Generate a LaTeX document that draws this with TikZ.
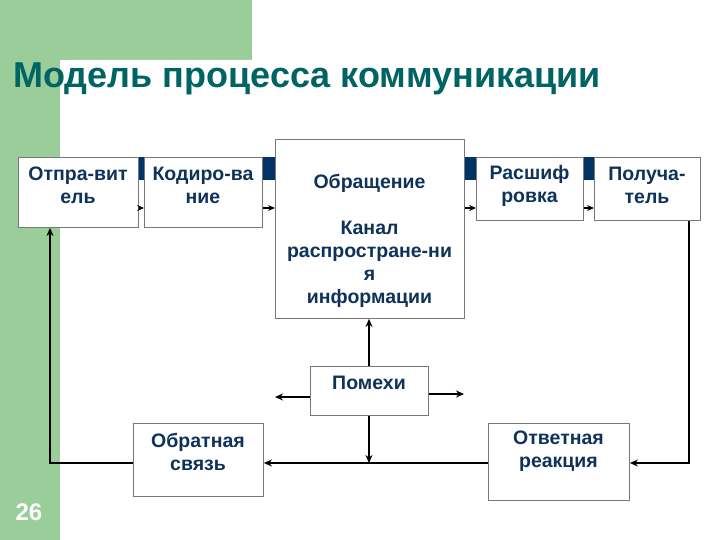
\documentclass[tikz,border=0pt]{standalone}
\usepackage{fontspec}
\setmainfont{Liberation Sans}
\usetikzlibrary{arrows.meta}
\definecolor{bggreen}{RGB}{155,205,155}
\definecolor{titlecol}{RGB}{0,100,100}
\definecolor{txtcol}{RGB}{15,50,90}
\definecolor{barcol}{RGB}{0,51,102}
\definecolor{boxline}{RGB}{120,120,120}
\tikzset{
  box/.style={draw=boxline, line width=0.9pt, fill=white, anchor=north west, inner sep=0pt},
  txt/.style={font=\fontsize{19.5}{23}\selectfont\bfseries, text=txtcol, align=center, inner sep=0pt},
  conn/.style={line width=2.2pt, draw=black},
  arr/.style={conn, -{Stealth[length=8pt,width=7pt]}},
  sarr/.style={line width=1.8pt, -{Stealth[length=7pt,width=6pt]}}
}
\begin{document}
\begin{tikzpicture}[x=1pt,y=-1pt]
\useasboundingbox (0,0) rectangle (720,540);
% background
\begin{scope}
\clip (0,0) rectangle (720,540);
\fill[bggreen] (0,0) rectangle (252,60);
\fill[bggreen] (0,0) rectangle (60,540);
\fill[white, rounded corners=9pt] (60,60) rectangle (740,560);
\end{scope}
% title
\node[font=\fontsize{36}{40}\selectfont\bfseries, text=titlecol, anchor=base west, inner sep=0pt] (title) at (13,88) {Модель процесса коммуникации};
% page number
\node[font=\fontsize{24}{28}\selectfont\bfseries, text=white, inner sep=0pt] (num) at (29,512) {26};
% dark bar
\fill[barcol] (20,157) rectangle (596,180);
% boxes
\node[box, minimum width=120pt, minimum height=70pt] (b1) at (18,157) {};
\node[box, minimum width=118pt, minimum height=70pt] (b2) at (144,157) {};
\node[box, minimum width=189pt, minimum height=179pt] (b3) at (275,139) {};
\node[box, minimum width=107pt, minimum height=63pt] (b4) at (476,157) {};
\node[box, minimum width=106pt, minimum height=63pt] (b5) at (594,157) {};
\node[box, minimum width=118pt, minimum height=49pt] (pom) at (310,366) {};
\node[box, minimum width=130pt, minimum height=73pt] (obr) at (133,423) {};
\node[box, minimum width=141pt, minimum height=77pt] (otv) at (488,423) {};
% texts
\node[txt] (t1) at (78,185.5) {Отпра-вит\\ель};
\node[txt] (t2) at (203,185.5) {Кодиро-ва\\ние};
\node[txt] (t3) at (369.5,240.5) {Обращение\\[23pt]Канал\\распростране-ни\\я\\информации};
\node[txt] (t4) at (529.5,185.5) {Расшиф\\ровка};
\node[txt] (t5) at (647,185.5) {Получа-\\тель};
\node[txt] (tp) at (369,383) {Помехи};
\node[txt] (to) at (198,451.5) {Обратная\\связь};
\node[txt] (tv) at (558.5,451.5) {Ответная\\реакция};
% top small arrows
\draw[sarr] (b1.east |- 0,208) -- (b2.west |- 0,208);
\draw[sarr] (b2.east |- 0,208) -- (b3.west |- 0,208);
\draw[sarr] (b3.east |- 0,208) -- (b4.west |- 0,208);
\draw[sarr] (b4.east |- 0,208) -- (b5.west |- 0,208);
% feedback loop
\coordinate (rc) at (689,463);
\coordinate (lc) at (50,463);
\draw[arr] (b5.south -| rc) -- (rc) -- (otv.east |- rc);
\draw[arr] (otv.west |- rc) -- (obr.east |- rc);
\draw[arr] (obr.west |- lc) -- (lc) -- (b1.south -| lc);
% noise
\draw[arr] (pom.north -| 369,0) -- (b3.south -| 369,0);
\draw[arr] (pom.south -| 369,0) -- (369,463);
\coordinate (nl) at (275,397);
\coordinate (nr) at (464,394);
\draw[arr] (pom.west |- nl) -- (nl);
\draw[arr] (pom.east |- nr) -- (nr);
\end{tikzpicture}
\end{document}
